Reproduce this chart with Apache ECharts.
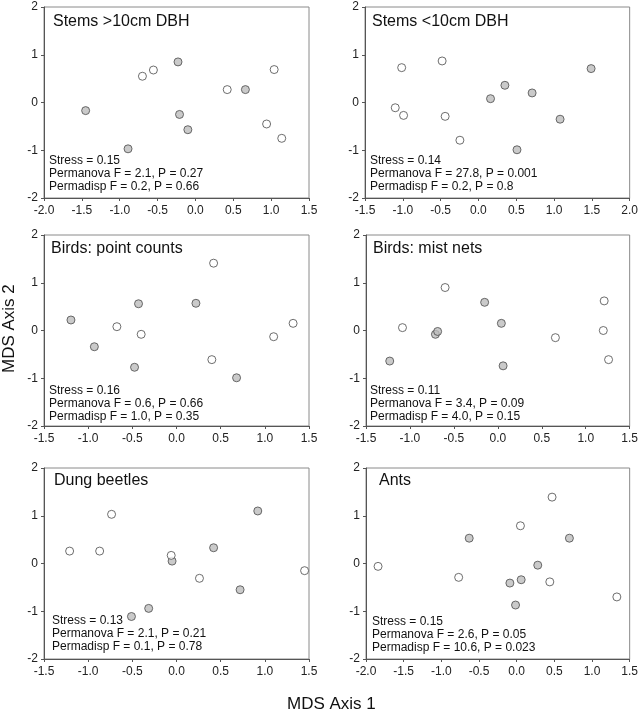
<!DOCTYPE html>
<html><head><meta charset="utf-8">
<script src="https://cdn.jsdelivr.net/npm/echarts@6/dist/echarts.min.js"></script>
<style>html,body{margin:0;padding:0;background:#fff}#c{width:641px;height:715px}</style>
</head><body><div id="c"></div>
<script>
// Panel titles and stats
const panelTitles = ["Stems >10cm DBH", "Stems <10cm DBH", "Birds: point counts", "Birds: mist nets", "Dung beetles", "Ants"];
const panelStats = [
  ["Stress = 0.15", "Permanova F = 2.1, P = 0.27", "Permadisp F = 0.2, P = 0.66"],
  ["Stress = 0.14", "Permanova F = 27.8, P = 0.001", "Permadisp F = 0.2, P = 0.8"],
  ["Stress = 0.16", "Permanova F = 0.6, P = 0.66", "Permadisp F = 1.0, P = 0.35"],
  ["Stress = 0.11", "Permanova F = 3.4, P = 0.09", "Permadisp F = 4.0, P = 0.15"],
  ["Stress = 0.13", "Permanova F = 2.1, P = 0.21", "Permadisp F = 0.1, P = 0.78"],
  ["Stress = 0.15", "Permanova F = 2.6, P = 0.05", "Permadisp F = 10.6, P = 0.023"]
];
const xMins = [-2.0, -1.5, -1.5, -1.5, -1.5, -2.0];
const xMaxs = [1.5, 2.0, 1.5, 1.5, 1.5, 1.5];
const yTicks = [-2, -1, 0, 1, 2];

// Filled (grey) points per panel
const filled1 = [[-1.45,-0.17],[-0.89,-0.97],[-0.23,0.85],[-0.21,-0.25],[-0.10,-0.57],[0.66,0.27]];
const open1   = [[-0.70,0.55],[-0.555,0.68],[0.42,0.27],[1.04,0.69],[0.94,-0.45],[1.14,-0.75]];
const filled2 = [[0.16,0.08],[0.35,0.36],[0.71,0.20],[1.08,-0.35],[0.51,-0.99],[1.49,0.71]];
const open2   = [[-1.015,0.73],[-0.48,0.87],[-1.10,-0.11],[-0.99,-0.27],[-0.44,-0.29],[-0.245,-0.79]];
const filled3 = [[-1.195,0.22],[-0.93,-0.34],[-0.43,0.56],[-0.475,-0.77],[0.22,0.57],[0.68,-0.99]];
const open3   = [[-0.675,0.08],[-0.40,-0.08],[0.42,1.41],[0.40,-0.61],[1.10,-0.13],[1.32,0.15]];
const filled4 = [[-1.23,-0.64],[-0.71,-0.08],[-0.685,-0.02],[-0.15,0.59],[0.04,0.15],[0.06,-0.74]];
const open4   = [[-1.085,0.06],[-0.60,0.90],[0.655,-0.15],[1.21,0.62],[1.20,0.0],[1.26,-0.61]];
const filled5 = [[-0.51,-1.11],[-0.315,-0.94],[-0.05,0.05],[0.42,0.33],[0.72,-0.55],[0.92,1.10]];
const open5   = [[-1.21,0.26],[-0.87,0.26],[-0.735,1.03],[-0.06,0.17],[0.26,-0.31],[1.45,-0.15]];
const filled6 = [[-0.63,0.53],[-0.09,-0.41],[0.06,-0.34],[-0.015,-0.87],[0.28,-0.035],[0.70,0.53]];
const open6   = [[-1.84,-0.06],[-0.77,-0.29],[0.05,0.79],[0.47,1.39],[0.44,-0.385],[1.33,-0.70]];

const filledSets = [filled1, filled2, filled3, filled4, filled5, filled6];
const openSets = [open1, open2, open3, open4, open5, open6];

// layout
const gridPos = [
  {left:44, top:7}, {left:365, top:7},
  {left:44, top:235}, {left:366, top:235},
  {left:44, top:468}, {left:366, top:468}
];
const GW = 265, GH = 191;
const FONT = 'Liberation Sans, Arial, sans-serif';

const grids = [], xAxes = [], yAxes = [], series = [], graphics = [];
for (let i = 0; i < 6; i++) {
  const g = gridPos[i];
  grids.push({left:g.left, top:g.top, width:GW, height:GH, show:true, borderColor:'#8a8a8a', borderWidth:1, backgroundColor:'transparent'});
  xAxes.push({
    type:'value', gridIndex:i, min:xMins[i], max:xMaxs[i], interval:0.5,
    axisLine:{show:true, onZero:false, lineStyle:{color:'#555', width:1}},
    axisTick:{show:true, length:3, lineStyle:{color:'#555'}},
    splitLine:{show:false},
    axisLabel:{color:'#222', fontSize:12, fontFamily:FONT, margin:7, formatter:v=>v.toFixed(1), showMinLabel:true, showMaxLabel:true}
  });
  yAxes.push({
    type:'value', gridIndex:i, min:yTicks[0], max:yTicks[yTicks.length-1], interval:1,
    axisLine:{show:true, onZero:false, lineStyle:{color:'#555', width:1}},
    axisTick:{show:true, length:3, lineStyle:{color:'#555'}},
    splitLine:{show:false},
    axisLabel:{color:'#222', fontSize:12, fontFamily:FONT, margin:6}
  });
  series.push({
    type:'scatter', xAxisIndex:i, yAxisIndex:i, data:filledSets[i], symbol:'circle', symbolSize:8,
    itemStyle:{color:'#bdbdbd', borderColor:'#4a4a4a', borderWidth:1}, z:3
  });
  series.push({
    type:'scatter', xAxisIndex:i, yAxisIndex:i, data:openSets[i], symbol:'circle', symbolSize:8,
    itemStyle:{color:'#ffffff', borderColor:'#4a4a4a', borderWidth:1}, z:3
  });
}

const titlePos = [[53,23],[372,23],[51,250],[373,250],[54,482],[379,482]];
const statPos = [[49,162],[370,162],[49,392],[370,392],[52,622],[372,623]];
for (let i = 0; i < 6; i++) {
  graphics.push({type:'text', left:titlePos[i][0], top:titlePos[i][1]-9, style:{text:panelTitles[i], fill:'#111', font:'16px ' + FONT}});
  for (let k = 0; k < 3; k++) {
    graphics.push({type:'text', left:statPos[i][0], top:statPos[i][1]-7 + k*13, style:{text:panelStats[i][k], fill:'#111', font:'12px ' + FONT}});
  }
}
graphics.push({type:'text', left:287, top:696, style:{text:'MDS Axis 1', fill:'#111', font:'17px ' + FONT}});
graphics.push({type:'text', x:1, y:373, rotation:Math.PI/2, style:{text:'MDS Axis 2', fill:'#111', font:'17px ' + FONT}});

const chart = echarts.init(document.getElementById('c'), null, {renderer:'canvas'});
chart.setOption({
  animation:false,
  backgroundColor:'#fff',
  grid:grids, xAxis:xAxes, yAxis:yAxes, series:series, graphic:graphics
});
</script></body></html>
